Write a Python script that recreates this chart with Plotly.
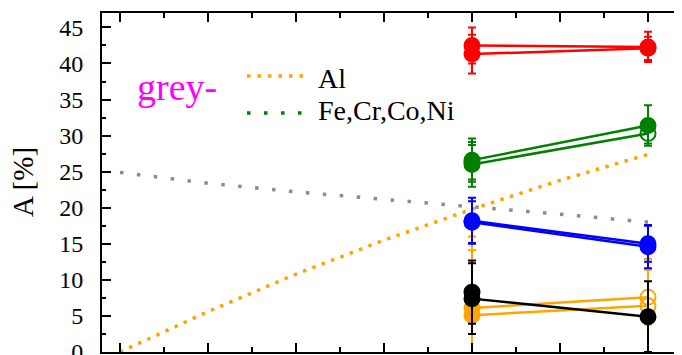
import plotly.graph_objects as go

# ---- data ----
x_pts = [4, 6]

red1 = [42.5, 42.3];  red1_err = [2.5, 2.1]
red2 = [41.3, 42.1];  red2_err = [2.7, 1.6]
green1 = [26.6, 31.4]; green1_err = [3.0, 2.8]
green2 = [26.0, 30.3]; green2_err = [3.1, 1.4]
green3 = [26.3];       green3_err = [2.4]
blue1 = [18.2, 15.0];  blue1_err = [3.2, 2.5]
blue2 = [18.0, 14.6];  blue2_err = [2.9, 3.0]
orange1 = [6.1, 7.6];  orange1_err = [9.9, 3.8]
orange2 = [5.1, 6.4];  orange2_err = [9.0, 6.5]
black1 = [7.4, 4.9];   black1_err = [4.9, 4.9]
black2 = [8.3];        black2_err = [4.4]

x_curve = [0, 1, 2, 3, 4, 5, 6]
al_curve = [0.0, 5.6, 10.8, 15.5, 19.8, 23.8, 27.4]
grey_curve = [24.9, 23.4, 22.2, 21.2, 20.2, 19.1, 18.0]

y_ticks = [0, 5, 10, 15, 20, 25, 30, 35, 40, 45]

SERIF = "Liberation Serif, Times New Roman, serif"
OFF = 8  # page body margin
W, H = 684 - OFF, 355 - OFF
L, T, B, R = 102 - OFF, 13 - OFF, 3, 0
pw, ph = W - L - R, H - T - B


def px(xs):
    """screen x pixel -> paper"""
    return (xs - OFF - L) / pw


def py(ys):
    """screen y pixel -> paper"""
    return (H - B - (ys - OFF)) / ph


fig = go.Figure()

# dotted curves
fig.add_trace(go.Scatter(x=x_curve, y=grey_curve, mode="lines",
                         line=dict(color="#8c8c8c", width=3.5, dash="3.5px,13.5px"),
                         hoverinfo="skip"))
fig.add_trace(go.Scatter(x=x_curve, y=al_curve, mode="lines",
                         line=dict(color="#ffa500", width=3.5, dash="3.5px,6.5px"),
                         hoverinfo="skip"))


def series(y, err, color, symbols=None, mode="lines+markers"):
    sym = symbols if symbols else "circle"
    fig.add_trace(go.Scatter(
        x=x_pts[:len(y)], y=y, mode=mode,
        line=dict(color=color, width=2.5),
        marker=dict(symbol=sym, size=15, color=color,
                    line=dict(color=color, width=2)),
        error_y=dict(type="data", array=err, color=color, thickness=2, width=4),
    ))


series(orange1, orange1_err, "#ffa500", ["circle", "circle-open"])
series(orange2, orange2_err, "#ffa500", ["circle", "circle-open"])
series(red1, red1_err, "#ff0000")
series(red2, red2_err, "#ff0000")
series(green1, green1_err, "#008000")
series(green2, green2_err, "#008000", ["circle", "circle-open"])
series(green3, green3_err, "#008000", mode="markers")
series(blue1, blue1_err, "#0000ff")
series(blue2, blue2_err, "#0000ff")
series(black1, black1_err, "#000000")
series(black2, black2_err, "#000000", mode="markers")

# legend samples / labels
shapes = [
    dict(type="line", xref="paper", yref="paper", x0=px(247), x1=px(303), y0=py(76), y1=py(76),
         line=dict(color="#ffa500", width=3.5, dash="3.5px,7px")),
    dict(type="line", xref="paper", yref="paper", x0=px(247), x1=px(303), y0=py(113), y1=py(113),
         line=dict(color="#008000", width=3.5, dash="3.5px,13.5px")),
]
annotations = [
    dict(text="Al", xref="paper", yref="paper", x=px(316), y=py(79), xanchor="left", yanchor="middle",
         showarrow=False, font=dict(family=SERIF, size=28, color="black")),
    dict(text="Fe,Cr,Co,Ni", xref="paper", yref="paper", x=px(316), y=py(110), xanchor="left",
         yanchor="middle", showarrow=False, font=dict(family=SERIF, size=28, color="black")),
    dict(text="grey-", xref="paper", yref="paper", x=px(135), y=py(87), xanchor="left", yanchor="middle",
         showarrow=False, font=dict(family=SERIF, size=38, color="#ff00ff")),
    dict(text="A [%]", xref="paper", yref="paper", x=px(23), y=py(182), xanchor="center", yanchor="middle",
         textangle=-90, showarrow=False, font=dict(family=SERIF, size=29, color="black")),
]

fig.update_layout(
    width=W, height=H,
    margin=dict(l=L, r=R, t=T, b=B, pad=0, autoexpand=False),
    paper_bgcolor="white", plot_bgcolor="white",
    showlegend=False,
    shapes=shapes, annotations=annotations,
    font=dict(family=SERIF, color="black"),
)
fig.update_xaxes(
    range=[-0.2045, 6.409], showgrid=False, zeroline=False, automargin=False,
    showline=True, linecolor="black", linewidth=2, mirror="allticks",
    ticks="inside", ticklen=9, tickwidth=2, tickcolor="black",
    tick0=0, dtick=1, showticklabels=False,
    minor=dict(ticks="inside", dtick=0.5, ticklen=5, tickwidth=2, tickcolor="black"),
)
fig.update_yaxes(
    range=[0, 47], showgrid=False, zeroline=False, automargin=False,
    showline=True, linecolor="black", linewidth=2, mirror="allticks",
    ticks="inside", ticklen=9, tickwidth=2, tickcolor="black",
    tickvals=y_ticks, ticktext=[str(v) for v in y_ticks],
    tickfont=dict(family=SERIF, size=24, color="black"),
    ticklabelstandoff=12, ticklabeloverflow="allow",
    minor=dict(ticks="inside", dtick=2.5, ticklen=4, tickwidth=2, tickcolor="black"),
)

fig.write_html("out.html")
